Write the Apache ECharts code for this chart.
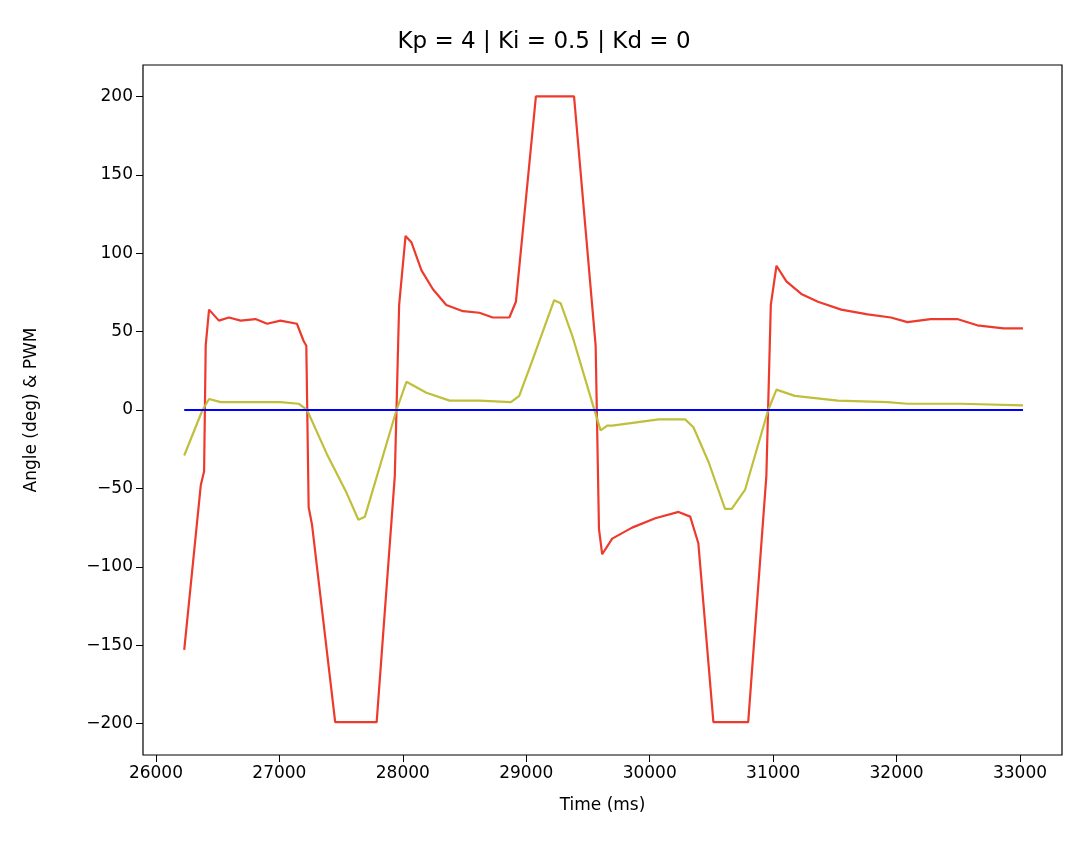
<!DOCTYPE html>
<html>
<head>
<meta charset="utf-8">
<script src="https://cdn.jsdelivr.net/npm/echarts@6/dist/echarts.min.js"></script>
<style>html,body{margin:0;padding:0;background:#fff}#chart{width:1088px;height:844px}</style>
</head>
<body>
<div id="chart"></div>
<script>
// PWM output (red)
var pwmT = [26229,26363,26390,26403,26430,26510,26591,26686,26806,26901,27008,27142,27196,27218,27237,27264,27452,27788,27935,27970,28022,28069,28151,28244,28352,28487,28620,28728,28863,28916,29078,29387,29562,29589,29615,29696,29857,30045,30234,30328,30394,30516,30798,30945,30981,31027,31107,31228,31363,31551,31766,31954,32088,32276,32491,32653,32867,33024];
var pwmV = [-153,-48,-39,41,64,57,59,57,58,55,57,55,44,41,-62,-73,-199,-199,-42,67,111,107,89,77,67,63,62,59,59,69,200,200,41,-76,-92,-82,-75,-69,-65,-68,-85,-199,-199,-42,67,92,82,74,69,64,61,59,56,58,58,54,52,52];
// angle (yellow)
var angT = [26229,26377,26430,26525,26820,27008,27156,27224,27384,27545,27640,27693,27949,28029,28191,28379,28620,28876,28943,29051,29226,29279,29374,29548,29602,29655,29696,30073,30287,30354,30476,30610,30664,30772,30960,31027,31175,31524,31927,32088,32518,33024];
var angV = [-29,0,7,5,5,5,4,0,-28,-53,-70,-68,0,18,11,6,6,5,9,32,70,68,47,1,-13,-10,-10,-6,-6,-11,-33,-63,-63,-51,0,13,9,6,5,4,4,3];
// setpoint (blue)
var setT = [26229,33024];
var setV = [0,0];
var xTicks = [26000,27000,28000,29000,30000,31000,32000,33000];
var yTicks = [-200,-150,-100,-50,0,50,100,150,200];

function pairs(t, v) {
    var out = [];
    for (var i = 0; i < t.length; i++) out.push([t[i], v[i]]);
    return out;
}

var font = 'DejaVu Sans';
var myChart = echarts.init(document.getElementById('chart'));
myChart.setOption({
    animation: false,
    title: {
        text: 'Kp = 4 | Ki = 0.5 | Kd = 0',
        left: 'center', top: 26,
        textStyle: {fontFamily: font, fontSize: 23, fontWeight: 'normal', color: '#000'}
    },
    grid: {left: 143, right: 26, top: 65, bottom: 89, show: true, borderColor: '#000', borderWidth: 1.2},
    xAxis: {
        type: 'value', min: 25895, max: 33340,
        name: 'Time (ms)', nameLocation: 'middle', nameGap: 42,
        nameTextStyle: {fontFamily: font, fontSize: 17, color: '#000'},
        axisLine: {show: false, onZero: false},
        splitLine: {show: false},
        axisTick: {show: true, inside: false, length: 7, customValues: xTicks, lineStyle: {color: '#000'}},
        axisLabel: {customValues: xTicks, fontFamily: font, fontSize: 17, color: '#000', margin: 10,
            formatter: function (v) { return '' + v; }}
    },
    yAxis: {
        type: 'value', min: -220, max: 220,
        name: 'Angle (deg) & PWM', nameLocation: 'middle', nameGap: 103,
        nameTextStyle: {fontFamily: font, fontSize: 17, color: '#000'},
        axisLine: {show: false, onZero: false},
        splitLine: {show: false},
        axisTick: {show: true, inside: false, length: 7, customValues: yTicks, lineStyle: {color: '#000'}},
        axisLabel: {customValues: yTicks, fontFamily: font, fontSize: 17, color: '#000', margin: 10,
            formatter: function (v) { return v < 0 ? '\u2212' + (-v) : '' + v; }}
    },
    series: [
        {type: 'line', data: pairs(pwmT, pwmV), showSymbol: false, lineStyle: {color: '#ee3a2c', width: 2.2}, z: 2},
        {type: 'line', data: pairs(angT, angV), showSymbol: false, lineStyle: {color: '#bfbf3c', width: 2.2}, z: 3},
        {type: 'line', data: pairs(setT, setV), showSymbol: false, lineStyle: {color: '#0000ff', width: 2.2}, z: 4}
    ]
});
</script>
</body>
</html>
